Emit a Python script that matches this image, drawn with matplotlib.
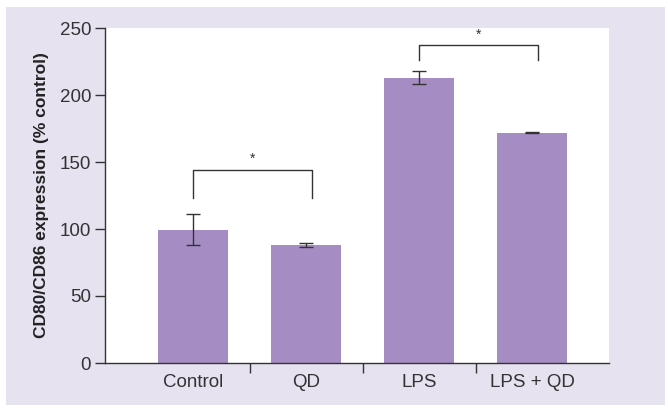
import numpy as np
import matplotlib
matplotlib.use('Agg')
import matplotlib.pyplot as plt
from matplotlib.patches import Rectangle

# ------------------------------------------------

groups = ['Control', 'QD', 'LPS', 'LPS + QD']
values = [99.5, 88, 213, 172]
errors = [11.6, 1.7, 4.6, 0.4]

yticks = [0, 50, 100, 150, 200, 250]

# significance brackets: (left idx, right idx, bar height, drop height)
brackets = [(0, 1, 144, 123), (2, 3, 237, 226)]

bar_color = '#a58dc4'
panel_color = '#e6e2f0'
line_color = '#333333'

plt.rcParams['font.family'] = ['Liberation Sans Narrow', 'Liberation Sans', 'DejaVu Sans']

fig = plt.figure(figsize=(6.68, 4.12), dpi=100, facecolor='white')
fig.add_artist(Rectangle((6/668, 1 - 405/412), 659/668, 398/412,
                         transform=fig.transFigure, facecolor=panel_color,
                         edgecolor='none', zorder=-10))

ax = fig.add_axes([105/668, 1 - 363/412, 504/668, 335/412])
ax.set_facecolor('white')

x = np.arange(len(groups))
ax.bar(x, values, width=0.62, color=bar_color, zorder=2)
ax.errorbar(x, values, yerr=errors, fmt='none', ecolor=line_color,
            elinewidth=1.0, capsize=5, capthick=1.0, zorder=3)

for i, j, top, drop in brackets:
    xl, xr = x[i], x[j] + 0.05
    ax.plot([xl, xl, xr, xr], [drop, top, top, drop], color=line_color, lw=1.0,
            zorder=3, clip_on=False)
    ax.text((xl + xr) / 2, top + 3, '*', ha='center', va='bottom',
            fontsize=10, color=line_color)

ax.set_xlim(-0.78, 3.68)
ax.set_ylim(0, 250)
ax.set_yticks(yticks)
ax.set_xticks(x)
ax.set_xticklabels(groups)
ax.set_xticks([0.5, 1.5, 2.5], minor=True)

ax.tick_params(axis='x', which='major', length=0, pad=8, labelsize=13.5, colors=line_color)
ax.tick_params(axis='x', which='minor', length=7, width=1.0, direction='out', color=line_color)
ax.tick_params(axis='y', length=7, width=1.0, pad=3, labelsize=13.5, colors=line_color)

for side in ['top', 'right']:
    ax.spines[side].set_visible(False)
for side in ['left', 'bottom']:
    ax.spines[side].set_color(line_color)
    ax.spines[side].set_linewidth(1.0)

ax.set_ylabel('CD80/CD86 expression (% control)', fontsize=12.5, fontweight='bold',
              family=['Liberation Sans', 'DejaVu Sans'], color='#222222')
ax.yaxis.set_label_coords(-56/504, 0.5)

fig.savefig('out.png', dpi=100, facecolor='white')
